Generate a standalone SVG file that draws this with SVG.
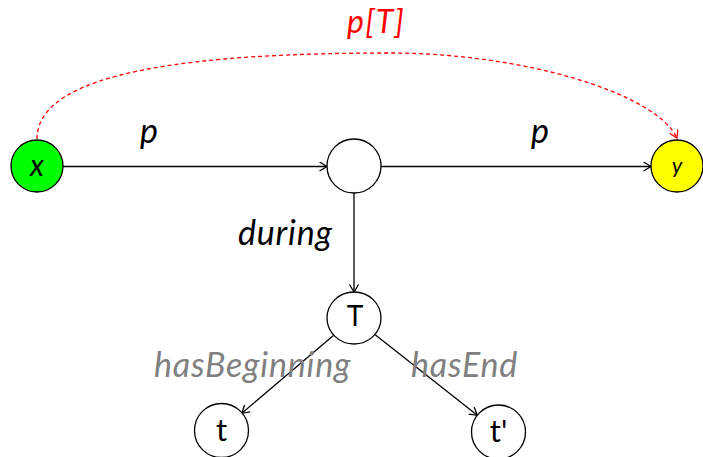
<svg xmlns="http://www.w3.org/2000/svg" width="703" height="457" viewBox="0 0 703 457">
<defs>
<style>
.node{stroke:#000;stroke-width:1.3;fill:#fff}
.edge{stroke:#000;stroke-width:1.3;fill:none}
.lbl{font-family:Lato,"Liberation Sans",sans-serif;font-style:italic;font-size:34px;letter-spacing:0.8px;fill:#000}
.gray{fill:#808080}
.ntxt{font-family:Lato,"Liberation Sans",sans-serif;font-size:28px;fill:#000;text-anchor:middle}
</style>
<marker id="arr" markerWidth="12" markerHeight="12" refX="8" refY="5" orient="auto" markerUnits="userSpaceOnUse">
<path d="M0.5,0.5 L8,5 L0.5,9.5" fill="none" stroke="#000" stroke-width="1.3"/>
</marker>
<marker id="arrR" markerWidth="12" markerHeight="12" refX="8" refY="5" orient="auto" markerUnits="userSpaceOnUse">
<path d="M0.5,0.5 L8,5 L0.5,9.5" fill="none" stroke="#f00" stroke-width="1.3"/>
</marker>
</defs>
<rect width="703" height="457" fill="#fff"/>
<g id="connectors">
<path class="edge" d="M37,139 C37,70 200,53 390,53 C520,53 655,92 677,138" style="stroke:#f00" stroke-dasharray="4,3" marker-end="url(#arrR)"/>
<line class="edge" x1="63" y1="166.5" x2="327" y2="166.5" marker-end="url(#arr)"/>
<line class="edge" x1="381" y1="166.5" x2="651" y2="166.5" marker-end="url(#arr)"/>
<line class="edge" x1="354" y1="193" x2="354" y2="292" marker-end="url(#arr)"/>
<line class="edge" x1="333.4" y1="335.5" x2="241.8" y2="413.3" marker-end="url(#arr)"/>
<line class="edge" x1="375.2" y1="334.7" x2="477.3" y2="415.3" marker-end="url(#arr)"/>
<text class="lbl" x="347" y="33" style="fill:#f00;font-size:32px;letter-spacing:1.3px">p[T]</text>
<text class="lbl" x="140" y="143">p</text>
<text class="lbl" x="531" y="143">p</text>
<text class="lbl" x="238" y="245">during</text>
<text class="lbl gray" x="154" y="377">hasBeginning</text>
<text class="lbl gray" x="411" y="377">hasEnd</text>
</g>
<g id="node-x">
<circle class="node" cx="37" cy="166" r="26" style="fill:#00ff00"/>
<text class="ntxt" x="37" y="176" style="font-style:italic;font-size:30px">x</text>
</g>
<g id="node-mid">
<circle class="node" cx="354" cy="166" r="27"/>
</g>
<g id="node-y">
<circle class="node" cx="677" cy="166" r="26" style="fill:#ffff00"/>
<text class="ntxt" x="677" y="173" style="font-style:italic;font-size:22px">y</text>
</g>
<g id="node-T">
<ellipse class="node" cx="354" cy="318" rx="27" ry="26"/>
<text class="ntxt" x="355" y="326">T</text>
</g>
<g id="node-t">
<circle class="node" cx="221.5" cy="430.5" r="27"/>
<text class="ntxt" x="221.5" y="441" style="font-size:31px">t</text>
</g>
<g id="node-t2">
<circle class="node" cx="498.5" cy="432" r="27"/>
<text class="ntxt" x="498.5" y="442" style="font-size:31px">t'</text>
</g>
</svg>
